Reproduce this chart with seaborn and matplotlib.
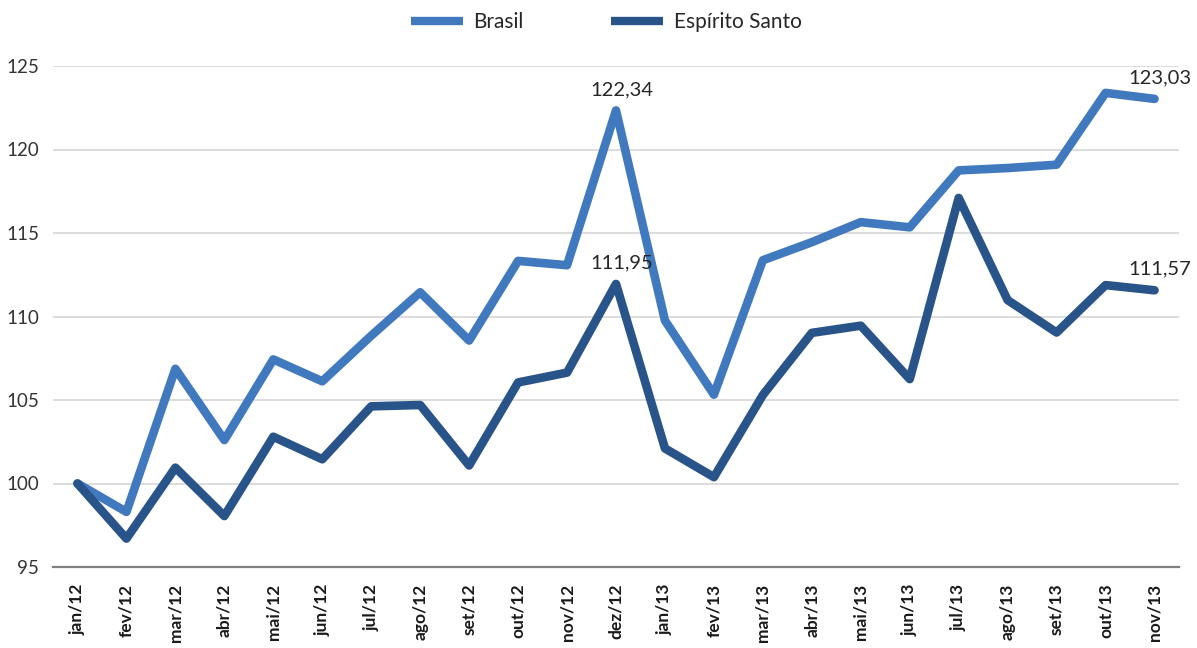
import matplotlib
matplotlib.use("Agg")
import matplotlib.pyplot as plt
import seaborn as sns
import pandas as pd
import numpy as np

months = ["jan/12", "fev/12", "mar/12", "abr/12", "mai/12", "jun/12", "jul/12", "ago/12",
          "set/12", "out/12", "nov/12", "dez/12", "jan/13", "fev/13", "mar/13", "abr/13",
          "mai/13", "jun/13", "jul/13", "ago/13", "set/13", "out/13", "nov/13"]
brasil = [100.0, 98.3, 106.87, 102.6, 107.43, 106.12, 108.85, 111.45, 108.56, 113.33, 113.07,
          122.34, 109.76, 105.32, 113.37, 114.45, 115.65, 115.34, 118.75, 118.89, 119.09,
          123.39, 123.03]
espirito_santo = [100.0, 96.7, 100.95, 98.05, 102.8, 101.45, 104.62, 104.7, 101.08, 106.05,
                  106.64, 111.95, 102.1, 100.38, 105.3, 109.02, 109.45, 106.25, 117.1, 110.98,
                  109.04, 111.88, 111.57]
series_names = ["Brasil", "Espírito Santo"]
yticks = [95, 100, 105, 110, 115, 120, 125]

df = pd.DataFrame({
    "pos": list(range(len(months))) * 2,
    "valor": brasil + espirito_santo,
    "serie": [series_names[0]] * len(months) + [series_names[1]] * len(months),
})

sns.set_theme(style="white")
plt.rcParams["font.family"] = ["Lato", "DejaVu Sans"]

fig = plt.figure(figsize=(11.97, 6.48), dpi=100)
ax = fig.add_axes([53 / 1197, 1 - 567 / 648, (1179 - 53) / 1197, (567 - 66) / 648])

palette = {"Brasil": "#4179BE", "Espírito Santo": "#29548A"}
sns.lineplot(data=df, x="pos", y="valor", hue="serie", palette=palette, ax=ax,
             linewidth=6.2, sort=False, solid_capstyle="round", legend=True)

ax.set_xlim(-0.5, len(months) - 0.5)
ax.set_ylim(95, 125)
ax.set_yticks(yticks)
ax.set_yticklabels([str(v) for v in yticks], fontsize=13.5, color="#333333")
ax.set_xticks(range(len(months)))
ax.set_xticklabels(months, rotation=90, fontsize=12.5, fontweight="bold", color="#1a1a1a")
ax.tick_params(axis="x", pad=12, length=0)
ax.tick_params(axis="y", pad=10, length=0)
ax.set_xlabel("")
ax.set_ylabel("")

for v in yticks[1:]:
    ax.axhline(v, color="#D9D9D9", linewidth=1.3, zorder=0)
for s in ["top", "right", "left"]:
    ax.spines[s].set_visible(False)
ax.spines["bottom"].set_color("#808080")
ax.spines["bottom"].set_linewidth(1.6)

# data labels
labels_idx = [11, 22]
for i in labels_idx:
    for vals in (brasil, espirito_santo):
        ax.annotate(f"{vals[i]:.2f}".replace(".", ","), (i, vals[i]),
                    xytext=(4, 9), textcoords="offset points",
                    ha="center", va="bottom", fontsize=14.5, color="#262626")

handles, lbls = ax.get_legend_handles_labels()
leg = ax.legend(handles, lbls, loc="center", bbox_to_anchor=(606 / 1197, 1 - 22 / 648),
                bbox_transform=fig.transFigure, ncol=2, frameon=False, fontsize=15,
                handlelength=2.5, handletextpad=0.5, columnspacing=4.2)
for t in leg.get_texts():
    t.set_color("#262626")
for ln in leg.get_lines():
    ln.set_solid_capstyle("butt")
    ln.set_linewidth(6.0)

fig.savefig("out.png", dpi=100)
